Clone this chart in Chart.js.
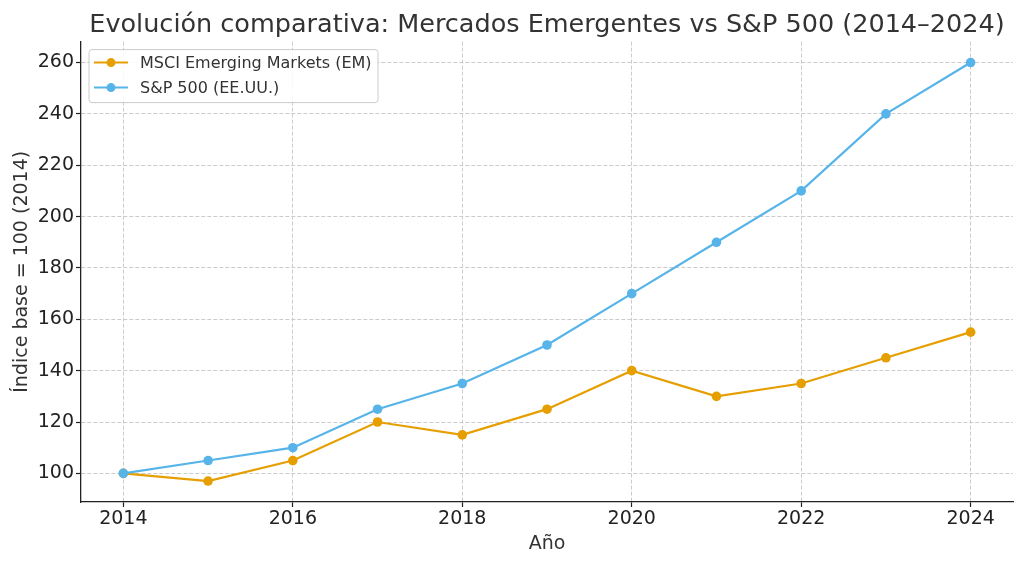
<!DOCTYPE html>
<html>
<head>
<meta charset="utf-8">
<script src="https://cdn.jsdelivr.net/npm/chart.js@4"></script>
<style>
  html, body { margin: 0; padding: 0; background: #fff; }
  #wrap { width: 1024px; height: 564px; }
</style>
</head>
<body>
<div id="wrap"><canvas id="chart" width="1024" height="564"></canvas></div>
<script>
// datos
const years = [2014, 2015, 2016, 2017, 2018, 2019, 2020, 2021, 2022, 2023, 2024];
const emValues = [100, 97, 105, 120, 115, 125, 140, 130, 135, 145, 155];
const spValues = [100, 105, 110, 125, 135, 150, 170, 190, 210, 240, 260];
const xTicks = [2014, 2016, 2018, 2020, 2022, 2024];
const yTicks = [100, 120, 140, 160, 180, 200, 220, 240, 260];

const FONT = "'DejaVu Sans', sans-serif";
const TEXT = '#333333';

// centrar el título sobre el área del gráfico, como matplotlib
const centerTitle = {
    id: 'centerTitle',
    afterLayout(chart) {
        if (chart.titleBlock) {
            chart.titleBlock.left = chart.chartArea.left;
            chart.titleBlock.right = chart.chartArea.right;
        }
    }
};

// leyenda tipo matplotlib dentro del área del gráfico
const boxLegend = {
    id: 'boxLegend',
    afterDatasetsDraw(chart) {
        const ctx = chart.ctx;
        const area = chart.chartArea;
        const x = area.left + 8, y = area.top + 8;
        const w = 289, h = 53;
        ctx.save();
        ctx.beginPath();
        ctx.roundRect(x, y, w, h, 3);
        ctx.fillStyle = 'rgba(255,255,255,0.85)';
        ctx.fill();
        ctx.strokeStyle = '#cccccc';
        ctx.lineWidth = 1;
        ctx.stroke();
        ctx.font = '16px ' + FONT;
        ctx.textBaseline = 'middle';
        const ds = chart.data.datasets;
        ds.forEach(function(d, i) {
            const cy = y + 13 + i * 25;
            ctx.strokeStyle = d.borderColor;
            ctx.lineWidth = 2;
            ctx.beginPath();
            ctx.moveTo(x + 5, cy);
            ctx.lineTo(x + 39, cy);
            ctx.stroke();
            ctx.fillStyle = d.borderColor;
            ctx.beginPath();
            ctx.arc(x + 22, cy, 4.5, 0, Math.PI * 2);
            ctx.fill();
            ctx.fillStyle = TEXT;
            ctx.fillText(d.label, x + 51, cy + 1);
        });
        ctx.restore();
    }
};

const gridOpts = {
    color: '#cccccc',
    lineWidth: 1,
    tickColor: '#222',
    tickLength: 5,
    tickBorderDash: [],
    tickWidth: 1.2
};
const borderOpts = { color: '#222', width: 1.3, dash: [4, 2] };

const ctx = document.getElementById('chart').getContext('2d');
const chart = new Chart(ctx, {
    type: 'line',
    data: {
        datasets: [{
            label: 'MSCI Emerging Markets (EM)',
            data: years.map((yr, i) => ({ x: yr, y: emValues[i] })),
            borderColor: '#E69F00',
            backgroundColor: '#E69F00',
            borderWidth: 2.2,
            pointRadius: 4.8,
            pointBorderWidth: 0,
            order: 1
        }, {
            label: 'S&P 500 (EE.UU.)',
            data: years.map((yr, i) => ({ x: yr, y: spValues[i] })),
            borderColor: '#56B4E9',
            backgroundColor: '#56B4E9',
            borderWidth: 2.2,
            pointRadius: 4.8,
            pointBorderWidth: 0,
            order: 0
        }]
    },
    options: {
        responsive: false,
        animation: false,
        layout: { padding: { left: 0, right: 11, top: 0, bottom: 0 } },
        plugins: {
            legend: { display: false },
            tooltip: { enabled: false },
            title: {
                display: true,
                text: 'Evolución comparativa: Mercados Emergentes vs S&P 500 (2014–2024)',
                color: TEXT,
                font: { family: FONT, size: 25.5, weight: 'normal' },
                padding: { top: 10, bottom: 1 }
            }
        },
        scales: {
            x: {
                type: 'linear',
                min: 2013.5,
                max: 2024.5,
                afterBuildTicks: function(axis) {
                    axis.ticks = xTicks.map(v => ({ value: v }));
                },
                afterFit: function(axis) { axis.height = 62; },
                ticks: {
                    color: '#222',
                    font: { family: FONT, size: 19 },
                    padding: 1,
                    callback: v => String(v)
                },
                grid: gridOpts,
                border: borderOpts,
                title: {
                    display: true,
                    text: 'Año',
                    color: TEXT,
                    font: { family: FONT, size: 19 },
                    padding: { top: 0, bottom: 9 }
                }
            },
            y: {
                min: 88.85,
                max: 268.15,
                afterBuildTicks: function(axis) {
                    axis.ticks = yTicks.map(v => ({ value: v }));
                },
                afterFit: function(axis) { axis.width = 81; },
                ticks: {
                    color: '#222',
                    font: { family: FONT, size: 19 },
                    padding: 2
                },
                grid: gridOpts,
                border: borderOpts,
                title: {
                    display: true,
                    text: 'Índice base = 100 (2014)',
                    color: TEXT,
                    font: { family: FONT, size: 19 },
                    padding: { top: 11, bottom: 0 }
                }
            }
        }
    },
    plugins: [centerTitle, boxLegend]
});
</script>
</body>
</html>
